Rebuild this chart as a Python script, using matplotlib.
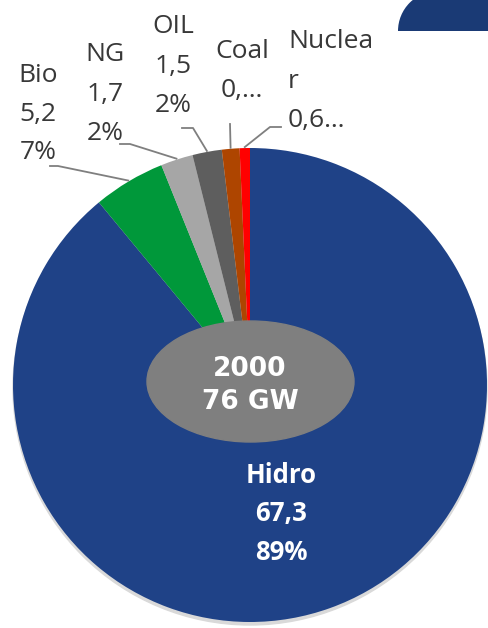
import matplotlib
matplotlib.use("Agg")
import matplotlib.pyplot as plt
from matplotlib.patches import Ellipse, Circle, Wedge, Rectangle
import numpy as np

# Данные (доли секторов, подписи - как на картинке)
categories = ['Hidro', 'Bio', 'NG', 'OIL', 'Coal', 'Nuclear']
share_pct = [89.0, 4.9, 2.2, 2.0, 1.2, 0.7]
label_lines = [
    ['Hidro', '67,3', '89%'],
    ['Bio', '5,2', '7%'],
    ['NG', '1,7', '2%'],
    ['OIL', '1,5', '2%'],
    ['Coal', '0,…'],
    ['Nuclea', 'r', '0,6…'],
]
center_text = ['2000', '76 GW']

colors = ['#1F4287', '#00983A', '#A6A6A6', '#5E5E5E', '#AE4500', '#FF0000']

# Геометрия в пикселях картинки (y сверху вниз)
W, H = 488, 628
def Y(y):
    return H - y

cx, cy, R = 250, 385, 237

fig = plt.figure(figsize=(W / 100, H / 100), dpi=100)
ax = fig.add_axes([0, 0, 1, 1])

# лёгкая тень под кругом
ax.add_patch(Circle((cx, Y(cy + 3)), R, color='#d9d9d9', zorder=0))

wedges, _ = ax.pie(share_pct, colors=colors, startangle=90, counterclock=False,
                   radius=R, center=(cx, Y(cy)),
                   wedgeprops=dict(linewidth=0))

ax.set_xlim(0, W)
ax.set_ylim(0, H)
ax.set_aspect('equal')
ax.axis('off')

# серый эллипс в центре
ax.add_patch(Ellipse((250.5, Y(381.5)), 207, 121, color='#7F7F7F', zorder=5))
for txt, base in zip(center_text, [376, 409]):
    ax.text(250, Y(base), txt, ha='center', va='baseline', color='white',
            fontsize=19, fontweight='bold', family='DejaVu Sans', zorder=6)

# фигура в правом верхнем углу
ax.add_patch(Wedge((438, Y(31)), 40, 90, 180, color='#1A3A75', lw=0))
ax.add_patch(Rectangle((438, Y(31)), 60, 40, color='#1A3A75', lw=0))

# подписи: (x, первая базовая линия, шаг, выравнивание)
label_pos = [
    (281, 483, 38.5, 'center'),
    (38, 82, 38.5, 'center'),
    (105, 61, 39.5, 'center'),
    (173, 33, 39.5, 'center'),
    (242, 58, 39.0, 'center'),
    (288, 48, 39.5, 'left'),
]
for i, lines in enumerate(label_lines):
    x, b0, gap, ha = label_pos[i]
    for k, line in enumerate(lines):
        if i == 0:
            ax.text(x, Y(b0 + k * gap), line, ha=ha, va='baseline', color='white',
                    fontsize=18.5, fontweight='bold', family='Open Sans', zorder=6)
        else:
            ax.text(x, Y(b0 + k * gap), line, ha=ha, va='baseline', color='#383838',
                    fontsize=19, family='Open Sans', zorder=6)

# выноски
elbows = {
    1: [(50, 166), (58, 166)],
    2: [(120, 144), (130, 144)],
    3: [(182, 128), (193, 128)],
    4: [(230, 124)],
    5: [(281, 127), (270, 127)],
}
for i, pts in elbows.items():
    w = wedges[i]
    mid = np.deg2rad((w.theta1 + w.theta2) / 2)
    ex = cx + (R + 1) * np.cos(mid)
    ey = Y(cy) + (R + 1) * np.sin(mid)
    xs = [p[0] for p in pts] + [ex]
    ys = [Y(p[1]) for p in pts] + [ey]
    ax.plot(xs, ys, color='#7F7F7F', lw=1.3, zorder=4)

fig.savefig('out.png', dpi=100)
